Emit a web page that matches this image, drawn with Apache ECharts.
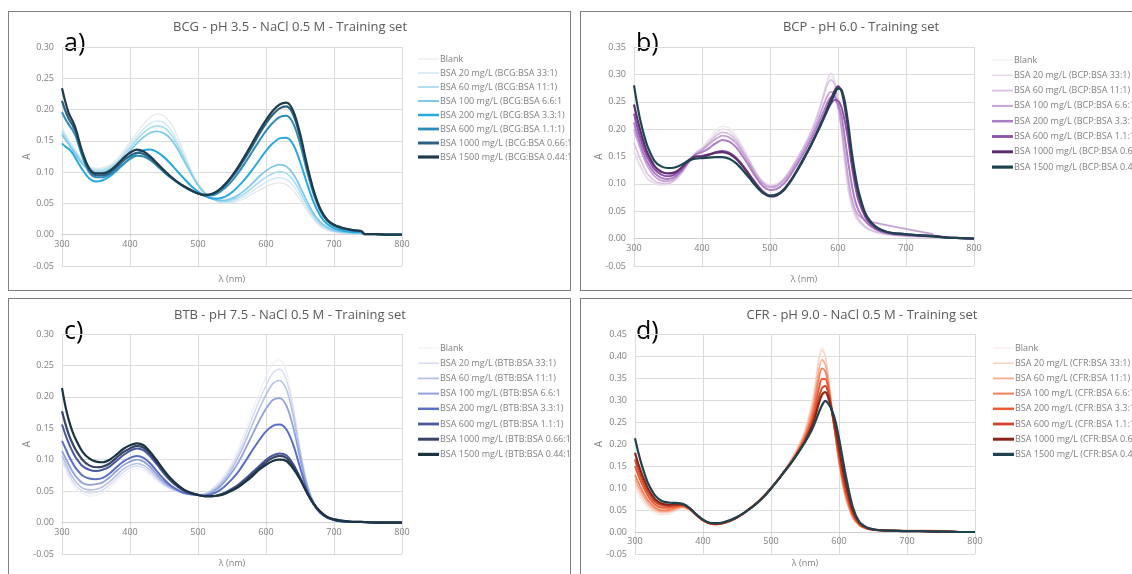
<!DOCTYPE html>
<html>
<head>
<meta charset="utf-8">
<script src="https://cdn.jsdelivr.net/npm/echarts@6/dist/echarts.min.js"></script>
<style>
  html, body { margin: 0; padding: 0; background: #fff; overflow: hidden; width: 1132px; height: 574px; }
  .panel { position: absolute; box-sizing: border-box; border: 1px solid #7f7f7f; background: #fff; overflow: hidden; }
  .panel > div { position: absolute; left: 0; top: 0; width: 100%; height: 100%; }
</style>
</head>
<body>
<div class="panel" style="left:8px;top:11px;width:563px;height:280px"><div id="ca"></div></div>
<div class="panel" style="left:580px;top:11px;width:553px;height:280px"><div id="cb"></div></div>
<div class="panel" style="left:8px;top:298px;width:563px;height:277px"><div id="cc"></div></div>
<div class="panel" style="left:580px;top:298px;width:553px;height:277px"><div id="cd"></div></div>
<script>
// ---------- Panel a: BCG, pH 3.5, NaCl 0.5 M ----------
const WL_A = [300,305,310,315,320,
  330,340,350,360,370,380,390,400,410,420,
  430,440,450,460,470,480,490,500,510,520,
  530,540,550,560,570,580,590,600,610,620,
  630,640,650,660,670,680,690,700,710,720,
  730,740,745,760,780,800];
const BCG_BLANK = [0.172,0.162,0.152,0.143,0.135,
  0.120,0.110,0.106,0.107,0.111,0.120,0.133,0.148,0.163,0.177,
  0.188,0.193,0.190,0.178,0.157,0.130,0.104,0.083,0.068,0.058,
  0.052,0.050,0.051,0.054,0.059,0.065,0.071,0.077,0.081,0.083,
  0.080,0.071,0.056,0.039,0.024,0.013,0.007,0.004,0.003,0.002,
  0.002,0.002,0.001,0.001,0,0];
const BCG_20 = [0.168,0.158,0.149,0.141,0.133,
  0.118,0.108,0.104,0.105,0.109,0.117,0.129,0.143,0.157,0.169,
  0.178,0.182,0.179,0.168,0.149,0.125,0.101,0.081,0.067,0.058,
  0.053,0.051,0.053,0.057,0.063,0.070,0.077,0.084,0.089,0.091,
  0.088,0.078,0.062,0.043,0.027,0.015,0.009,0.005,0.003,0.003,
  0.002,0.002,0.001,0.001,0,0];
const BCG_60 = [0.165,0.156,0.147,0.139,0.131,
  0.116,0.106,0.102,0.103,0.107,0.115,0.126,0.139,0.152,0.163,
  0.171,0.174,0.171,0.161,0.143,0.121,0.099,0.080,0.066,0.058,
  0.054,0.053,0.055,0.060,0.067,0.075,0.084,0.092,0.098,0.101,
  0.098,0.087,0.069,0.048,0.030,0.017,0.010,0.006,0.004,0.003,
  0.003,0.002,0.001,0.001,0,0];
const BCG_100 = [0.160,0.152,0.144,0.136,0.128,
  0.113,0.103,0.099,0.100,0.104,0.112,0.122,0.134,0.146,0.156,
  0.163,0.165,0.162,0.153,0.137,0.117,0.097,0.079,0.066,0.059,
  0.055,0.055,0.058,0.064,0.072,0.082,0.093,0.102,0.109,0.112,
  0.109,0.097,0.077,0.054,0.034,0.020,0.012,0.007,0.005,0.004,
  0.003,0.003,0.001,0.001,0,0];
const BCG_200 = [0.146,0.141,0.137,0.131,0.122,
  0.104,0.090,0.085,0.087,0.093,0.102,0.112,0.122,0.130,0.135,
  0.136,0.132,0.124,0.113,0.101,0.089,0.078,0.069,0.062,0.058,
  0.058,0.061,0.068,0.078,0.090,0.104,0.119,0.134,0.146,0.154,
  0.155,0.144,0.117,0.083,0.052,0.030,0.017,0.010,0.007,0.005,
  0.004,0.004,0.001,0.001,0,0];
const BCG_600 = [0.196,0.185,0.176,0.168,0.158,
  0.125,0.100,0.092,0.092,0.096,0.104,0.113,0.121,0.126,0.125,
  0.119,0.110,0.100,0.091,0.083,0.076,0.070,0.066,0.063,0.063,
  0.067,0.075,0.086,0.100,0.116,0.133,0.150,0.166,0.179,0.188,
  0.190,0.178,0.146,0.103,0.065,0.038,0.022,0.014,0.010,0.008,
  0.006,0.005,0.001,0.001,0,0];
const BCG_1000 = [0.214,0.198,0.185,0.176,0.165,
  0.130,0.104,0.095,0.095,0.099,0.108,0.118,0.126,0.131,0.129,
  0.122,0.112,0.102,0.092,0.084,0.077,0.071,0.066,0.064,0.065,
  0.070,0.079,0.092,0.107,0.124,0.142,0.161,0.178,0.192,0.202,
  0.205,0.192,0.157,0.110,0.069,0.040,0.023,0.015,0.011,0.009,
  0.007,0.006,0.001,0.001,0,0];
const BCG_1500 = [0.234,0.212,0.194,0.183,0.170,
  0.132,0.106,0.098,0.098,0.102,0.111,0.122,0.131,0.136,0.133,
  0.125,0.114,0.103,0.093,0.084,0.077,0.071,0.066,0.063,0.065,
  0.071,0.081,0.094,0.110,0.128,0.147,0.166,0.183,0.198,0.208,
  0.211,0.198,0.162,0.113,0.071,0.041,0.024,0.016,0.012,0.009,
  0.007,0.006,0.001,0.001,0,0];
const NAMES_A = ['Blank','BSA 20 mg/L (BCG:BSA 33:1)','BSA 60 mg/L (BCG:BSA 11:1)','BSA 100 mg/L (BCG:BSA 6.6:1',
  'BSA 200 mg/L (BCG:BSA 3.3:1)','BSA 600 mg/L (BCG:BSA 1.1:1)','BSA 1000 mg/L (BCG:BSA 0.66:1)','BSA 1500 mg/L (BCG:BSA 0.44:1)'];

// ---------- Panel b: BCP, pH 6.0 ----------
const WL_B = [300,305,310,315,320,
  330,340,350,360,370,380,390,400,410,420,
  430,440,450,460,470,480,490,500,510,520,
  530,540,550,560,570,580,
  585,590,595,600,605,610,615,620,625,630,
  640,650,660,670,680,690,700,
  720,740,760,780,800];
const BCP_BLANK = [0.155,0.140,0.128,0.117,0.108,
  0.100,0.097,0.099,0.106,0.120,0.139,0.157,0.168,0.182,0.197,
  0.205,0.202,0.189,0.168,0.145,0.122,0.105,0.099,0.100,0.109,
  0.125,0.145,0.167,0.192,0.225,0.268,
  0.290,0.296,0.280,0.240,0.185,0.130,0.085,0.057,0.040,0.031,
  0.020,0.014,0.010,0.008,0.006,0.005,0.004,
  0.003,0.002,0.001,0.0005,0];
const BCP_20 = [0.160,0.145,0.132,0.120,0.110,
  0.102,0.099,0.100,0.107,0.120,0.138,0.155,0.165,0.178,0.192,
  0.200,0.197,0.185,0.165,0.143,0.120,0.104,0.098,0.100,0.110,
  0.127,0.148,0.170,0.195,0.228,0.270,
  0.293,0.302,0.288,0.250,0.200,0.140,0.090,0.060,0.042,0.032,
  0.020,0.014,0.010,0.008,0.006,0.005,0.004,
  0.003,0.002,0.001,0.0005,0];
const BCP_60 = [0.175,0.158,0.143,0.130,0.118,
  0.106,0.101,0.101,0.107,0.120,0.138,0.155,0.164,0.175,0.187,
  0.194,0.191,0.180,0.161,0.140,0.118,0.102,0.096,0.098,0.108,
  0.125,0.146,0.168,0.193,0.225,0.265,
  0.283,0.290,0.282,0.250,0.205,0.150,0.102,0.068,0.048,0.036,
  0.022,0.015,0.011,0.008,0.007,0.006,0.005,
  0.004,0.003,0.001,0.0005,0];
// this run has no readings between 650 and 740 nm
const BCP_100 = [0.200,0.180,0.162,0.146,0.132,
  0.114,0.106,0.105,0.110,0.122,0.139,0.154,0.162,0.172,0.182,
  0.188,0.185,0.175,0.157,0.137,0.116,0.100,0.094,0.096,0.106,
  0.122,0.142,0.163,0.187,0.215,0.248,
  0.262,0.268,0.262,0.240,0.205,0.158,0.110,0.075,0.054,0.043,
  0.034,0.030,null,null,null,null,null,
  null,0.008,null,null,null];
const BCP_200 = [0.212,0.190,0.170,0.153,0.139,
  0.120,0.111,0.109,0.113,0.124,0.140,0.153,0.158,0.165,0.174,
  0.180,0.177,0.167,0.150,0.131,0.111,0.095,0.089,0.091,0.100,
  0.116,0.136,0.157,0.180,0.207,0.235,
  0.250,0.258,0.258,0.245,0.225,0.185,0.140,0.100,0.070,0.052,
  0.032,0.021,0.014,0.010,0.008,0.007,0.006,
  0.005,0.004,0.002,0.001,0];
const BCP_600 = [0.228,0.203,0.181,0.163,0.148,
  0.127,0.117,0.114,0.117,0.127,0.141,0.150,0.151,0.154,0.158,
  0.160,0.157,0.148,0.134,0.117,0.100,0.086,0.079,0.081,0.090,
  0.106,0.126,0.148,0.171,0.197,0.224,
  0.237,0.247,0.253,0.252,0.240,0.215,0.180,0.135,0.098,0.070,
  0.040,0.024,0.016,0.012,0.010,0.008,0.007,
  0.006,0.005,0.002,0.001,0];
const BCP_1000 = [0.245,0.218,0.194,0.173,0.156,
  0.133,0.122,0.119,0.121,0.130,0.143,0.150,0.150,0.153,0.157,
  0.158,0.155,0.146,0.132,0.115,0.098,0.084,0.077,0.079,0.088,
  0.104,0.124,0.146,0.170,0.197,0.225,
  0.241,0.256,0.270,0.278,0.270,0.240,0.200,0.150,0.112,0.082,
  0.044,0.027,0.018,0.013,0.010,0.009,0.008,
  0.006,0.005,0.002,0.001,0];
const BCP_1500 = [0.280,0.243,0.212,0.188,0.168,
  0.142,0.132,0.129,0.130,0.135,0.142,0.146,0.147,0.148,0.149,
  0.149,0.146,0.138,0.125,0.110,0.095,0.083,0.078,0.080,0.089,
  0.105,0.125,0.147,0.170,0.195,0.222,
  0.236,0.250,0.264,0.274,0.272,0.250,0.210,0.160,0.120,0.088,
  0.047,0.028,0.018,0.013,0.010,0.009,0.008,
  0.006,0.004,0.002,0.001,0];
const NAMES_B = ['Blank','BSA 20 mg/L (BCP:BSA 33:1)','BSA 60 mg/L (BCP:BSA 11:1)','BSA 100 mg/L (BCP:BSA 6.6:1',
  'BSA 200 mg/L (BCP:BSA 3.3:1)','BSA 600 mg/L (BCP:BSA 1.1:1)','BSA 1000 mg/L (BCP:BSA 0.66:1)','BSA 1500 mg/L (BCP:BSA 0.44:1)'];

// ---------- Panel c: BTB, pH 7.5, NaCl 0.5 M ----------
const WL_C = [300,305,310,315,320,
  330,340,350,360,370,380,390,400,410,420,
  430,440,450,460,470,480,490,500,510,520,
  530,540,550,560,570,580,590,600,610,620,
  630,640,650,660,670,680,690,700,710,720,
  730,740,760,780,800];
const BTB_BLANK = [0.097,0.085,0.072,0.062,0.054,
  0.046,0.042,0.043,0.047,0.055,0.066,0.075,0.082,0.086,0.083,
  0.075,0.066,0.058,0.052,0.049,0.047,0.045,0.044,0.046,0.054,
  0.064,0.078,0.096,0.120,0.148,0.178,0.206,0.232,0.253,0.259,
  0.240,0.188,0.120,0.064,0.032,0.016,0.008,0.004,0.002,0.001,
  0.001,0.001,0,0,0];
const BTB_20 = [0.100,0.089,0.077,0.067,0.059,
  0.050,0.047,0.048,0.052,0.060,0.070,0.080,0.087,0.090,0.087,
  0.079,0.069,0.060,0.054,0.050,0.047,0.045,0.044,0.046,0.052,
  0.061,0.074,0.091,0.113,0.139,0.167,0.194,0.218,0.238,0.244,
  0.227,0.180,0.117,0.063,0.032,0.016,0.008,0.004,0.002,0.001,
  0.001,0.001,0,0,0];
const BTB_60 = [0.106,0.095,0.083,0.073,0.065,
  0.055,0.052,0.053,0.057,0.065,0.075,0.085,0.091,0.094,0.091,
  0.083,0.072,0.062,0.055,0.050,0.047,0.045,0.044,0.045,0.050,
  0.058,0.070,0.086,0.106,0.130,0.156,0.181,0.203,0.221,0.226,
  0.212,0.170,0.112,0.062,0.032,0.016,0.008,0.004,0.002,0.001,
  0.001,0.001,0,0,0];
const BTB_100 = [0.114,0.103,0.092,0.082,0.074,
  0.063,0.060,0.061,0.064,0.072,0.082,0.091,0.097,0.100,0.097,
  0.088,0.076,0.065,0.057,0.051,0.047,0.045,0.044,0.044,0.048,
  0.055,0.066,0.080,0.097,0.118,0.140,0.162,0.181,0.195,0.198,
  0.186,0.152,0.103,0.059,0.031,0.016,0.008,0.004,0.002,0.001,
  0.001,0.001,0,0,0];
const BTB_200 = [0.130,0.118,0.106,0.096,0.087,
  0.075,0.070,0.069,0.071,0.078,0.088,0.097,0.103,0.106,0.103,
  0.094,0.081,0.069,0.059,0.052,0.047,0.045,0.044,0.043,0.045,
  0.050,0.058,0.069,0.082,0.098,0.115,0.131,0.145,0.154,0.156,
  0.148,0.124,0.088,0.053,0.029,0.015,0.008,0.004,0.002,0.001,
  0.001,0.001,0,0,0];
const BTB_600 = [0.156,0.140,0.126,0.114,0.104,
  0.090,0.084,0.082,0.084,0.089,0.098,0.107,0.114,0.118,0.115,
  0.105,0.092,0.078,0.066,0.057,0.050,0.046,0.044,0.042,0.042,
  0.044,0.048,0.054,0.061,0.070,0.080,0.090,0.100,0.107,0.110,
  0.107,0.093,0.072,0.049,0.029,0.016,0.008,0.004,0.002,0.001,
  0.001,0.001,0,0,0];
const BTB_1000 = [0.177,0.157,0.140,0.127,0.116,
  0.100,0.091,0.088,0.089,0.094,0.103,0.112,0.118,0.122,0.119,
  0.109,0.095,0.081,0.068,0.058,0.051,0.047,0.044,0.042,0.042,
  0.043,0.047,0.052,0.059,0.067,0.077,0.087,0.096,0.103,0.106,
  0.103,0.090,0.071,0.049,0.030,0.017,0.009,0.005,0.003,0.002,
  0.001,0.001,0,0,0];
const BTB_1500 = [0.214,0.185,0.163,0.146,0.133,
  0.113,0.102,0.097,0.096,0.100,0.108,0.117,0.123,0.126,0.123,
  0.112,0.098,0.083,0.070,0.060,0.052,0.047,0.044,0.042,0.042,
  0.043,0.046,0.051,0.057,0.065,0.074,0.084,0.092,0.098,0.100,
  0.098,0.086,0.069,0.048,0.030,0.017,0.009,0.005,0.003,0.002,
  0.001,0.001,0,0,0];
const NAMES_C = ['Blank','BSA 20 mg/L (BTB:BSA 33:1)','BSA 60 mg/L (BTB:BSA 11:1)','BSA 100 mg/L (BTB:BSA 6.6:1',
  'BSA 200 mg/L (BTB:BSA 3.3:1)','BSA 600 mg/L (BTB:BSA 1.1:1)','BSA 1000 mg/L (BTB:BSA 0.66:1)','BSA 1500 mg/L (BTB:BSA 0.44:1)'];

// ---------- Panel d: CFR, pH 9.0, NaCl 0.5 M ----------
const WL_D = [300,305,310,315,320,
  330,340,350,360,370,380,390,400,410,420,
  430,440,450,460,470,480,490,500,510,520,
  530,540,550,560,
  565,570,575,580,585,590,595,600,605,610,
  620,630,640,650,660,
  680,700,720,740,760,780,800];
const CFR_BLANK = [0.100,0.085,0.072,0.061,0.052,
  0.042,0.039,0.040,0.047,0.053,0.049,0.037,0.025,0.018,0.016,
  0.019,0.024,0.032,0.042,0.054,0.068,0.083,0.100,0.120,0.142,
  0.167,0.197,0.235,0.295,
  0.340,0.395,0.420,0.400,0.345,0.275,0.210,0.150,0.105,0.072,
  0.030,0.013,0.007,0.005,0.004,
  0.003,0.003,0.003,0.003,0.001,0,0];
const CFR_20 = [0.110,0.094,0.080,0.068,0.058,
  0.047,0.043,0.044,0.050,0.055,0.050,0.038,0.026,0.019,0.017,
  0.020,0.025,0.033,0.043,0.055,0.068,0.083,0.100,0.120,0.141,
  0.165,0.194,0.231,0.290,
  0.333,0.388,0.414,0.398,0.346,0.278,0.214,0.155,0.109,0.075,
  0.032,0.014,0.008,0.005,0.004,
  0.003,0.003,0.003,0.003,0.001,0,0];
const CFR_60 = [0.120,0.103,0.088,0.075,0.064,
  0.051,0.046,0.047,0.052,0.057,0.051,0.038,0.026,0.019,0.017,
  0.020,0.025,0.033,0.043,0.055,0.068,0.083,0.100,0.119,0.140,
  0.163,0.190,0.225,0.278,
  0.318,0.366,0.392,0.380,0.336,0.275,0.215,0.160,0.114,0.079,
  0.034,0.015,0.008,0.005,0.004,
  0.003,0.003,0.003,0.003,0.001,0,0];
const CFR_100 = [0.130,0.112,0.096,0.082,0.070,
  0.055,0.049,0.050,0.055,0.058,0.052,0.039,0.026,0.019,0.017,
  0.020,0.025,0.033,0.043,0.055,0.068,0.083,0.100,0.119,0.139,
  0.161,0.187,0.219,0.266,
  0.302,0.346,0.372,0.365,0.328,0.272,0.216,0.163,0.118,0.083,
  0.036,0.016,0.008,0.005,0.004,
  0.003,0.003,0.003,0.003,0.001,0,0];
const CFR_200 = [0.150,0.128,0.110,0.094,0.080,
  0.062,0.055,0.055,0.058,0.060,0.053,0.039,0.027,0.020,0.018,
  0.020,0.025,0.033,0.043,0.055,0.067,0.082,0.099,0.118,0.138,
  0.159,0.184,0.213,0.255,
  0.285,0.323,0.348,0.348,0.318,0.270,0.220,0.170,0.125,0.090,
  0.040,0.017,0.009,0.005,0.004,
  0.003,0.002,0.002,0.001,0.001,0,0];
const CFR_600 = [0.165,0.141,0.121,0.103,0.088,
  0.068,0.060,0.059,0.061,0.062,0.054,0.039,0.027,0.020,0.019,
  0.021,0.026,0.033,0.043,0.054,0.067,0.082,0.099,0.118,0.138,
  0.158,0.182,0.209,0.246,
  0.272,0.304,0.327,0.332,0.310,0.270,0.225,0.178,0.133,0.097,
  0.044,0.019,0.009,0.005,0.004,
  0.003,0.002,0.002,0.001,0.001,0,0];
const CFR_1000 = [0.180,0.154,0.132,0.113,0.096,
  0.074,0.064,0.062,0.063,0.063,0.054,0.040,0.027,0.020,0.019,
  0.021,0.026,0.033,0.043,0.054,0.067,0.081,0.099,0.118,0.138,
  0.158,0.181,0.206,0.240,
  0.262,0.290,0.312,0.318,0.302,0.272,0.235,0.192,0.148,0.110,
  0.050,0.021,0.010,0.006,0.004,
  0.003,0.002,0.002,0.001,0.001,0,0];
const CFR_1500 = [0.213,0.180,0.152,0.128,0.108,
  0.082,0.070,0.067,0.066,0.064,0.055,0.040,0.028,0.021,0.020,
  0.022,0.027,0.034,0.043,0.054,0.066,0.081,0.099,0.118,0.138,
  0.158,0.180,0.204,0.232,
  0.250,0.270,0.288,0.298,0.290,0.275,0.250,0.213,0.170,0.128,
  0.058,0.023,0.011,0.006,0.004,
  0.003,0.002,0.002,0.001,0.001,0,0];
const NAMES_D = ['Blank','BSA 20 mg/L (CFR:BSA 33:1)','BSA 60 mg/L (CFR:BSA 11:1)','BSA 100 mg/L (CFR:BSA 6.6:1',
  'BSA 200 mg/L (CFR:BSA 3.3:1)','BSA 600 mg/L (CFR:BSA 1.1:1)','BSA 1000 mg/L (CFR:BSA 0.66:1)','BSA 1500 mg/L (CFR:BSA 0.44:1)'];

// ---------- drawing ----------
const FONT = '"Open Sans", "Noto Sans", sans-serif';
const LINE_WIDTHS = [1.1, 1.4, 1.6, 1.8, 2, 2, 2.2, 2.2];
// legend key thickness, growing with BSA concentration
const KEY_WIDTHS = [1, 1.5, 1.8, 2, 2.5, 2.8, 3, 3.2];

function drawPanel(el, p) {
  const chart = echarts.init(el, null, { renderer: 'canvas' });
  const series = p.sets.map((vals, i) => ({
    type: 'line',
    name: p.names[i],
    data: p.wl.map((w, j) => (vals[j] == null ? null : [w, vals[j]])).filter(Boolean),
    symbol: 'none',
    smooth: 0.3,
    lineStyle: { color: p.colors[i], width: LINE_WIDTHS[i] },
    itemStyle: { color: p.colors[i] },
    emphasis: { disabled: true },
    silent: true,
    z: 2 + i
  }));
  const g = p.grid;
  // the wavelength axis sits on A = 0, one 0.05 band above the bottom of the plot
  const zeroOffset = g[3] * 0.05 / (p.ymax + 0.05);
  chart.setOption({
    animation: false,
    grid: { left: g[0], top: g[1], width: g[2], height: g[3] },
    xAxis: {
      type: 'value', min: 300, max: 800, interval: 100,
      offset: -zeroOffset,
      axisLine: { onZero: false, lineStyle: { color: '#cfcfcf', width: 1 } },
      axisTick: { show: false },
      axisLabel: { color: '#7f7f7f', fontFamily: FONT, fontSize: 9, margin: 5 },
      splitLine: { lineStyle: { color: '#dcdcdc', width: 1 } }
    },
    yAxis: {
      type: 'value', min: -0.05, max: p.ymax, interval: 0.05,
      axisLine: { show: false }, axisTick: { show: false },
      axisLabel: { color: '#7f7f7f', fontFamily: FONT, fontSize: 9, margin: 8,
        formatter: v => v.toFixed(2) },
      splitLine: { lineStyle: { color: '#dcdcdc', width: 1 } }
    },
    legend: {
      orient: 'vertical', left: p.legend[0], top: p.legend[1],
      itemWidth: 21, itemHeight: 10, itemGap: p.legend[2],
      selectedMode: false,
      textStyle: { color: '#7f7f7f', fontFamily: FONT, fontSize: 9, lineHeight: 10, padding: [0, 0, 0, -4] },
      data: p.names.map((n, i) => ({
        name: n,
        icon: 'path://M0,0H210V' + (KEY_WIDTHS[i] * 10) + 'H0Z',
        itemStyle: { color: p.colors[i] }
      }))
    },
    graphic: [
      { type: 'text', x: p.title[0], y: p.title[1], silent: true,
        style: { text: p.titleText, fill: '#595959', font: '13px ' + FONT,
          align: 'center', verticalAlign: 'middle', textAlign: 'center', textVerticalAlign: 'middle' } },
      { type: 'text', x: 55, y: p.tag[1], silent: true,
        style: { text: p.tagText, fill: '#000', font: '25px ' + FONT,
          align: 'left', verticalAlign: 'middle', textAlign: 'left', textVerticalAlign: 'middle' } },
      { type: 'text', x: g[0] + g[2] / 2, y: p.xname, silent: true,
        style: { text: 'λ (nm)', fill: '#7f7f7f', font: '9px ' + FONT,
          align: 'center', verticalAlign: 'middle', textAlign: 'center', textVerticalAlign: 'middle' } },
      { type: 'text', x: 18, y: g[1] + g[3] / 2, rotation: Math.PI / 2, silent: true,
        style: { text: 'A', fill: '#7f7f7f', font: '10px ' + FONT,
          align: 'center', verticalAlign: 'middle', textAlign: 'center', textVerticalAlign: 'middle' } }
    ],
    series
  });
}

drawPanel(document.getElementById('ca'), {
  wl: WL_A, sets: [BCG_BLANK, BCG_20, BCG_60, BCG_100, BCG_200, BCG_600, BCG_1000, BCG_1500],
  names: NAMES_A,
  colors: ['#e4e4e4', '#cfe9f5', '#a9dbf1', '#7dcaec', '#27a8e0', '#2f8bbb', '#2b6282', '#1e3c4b'],
  grid: [53, 35, 340, 219], ymax: 0.30, legend: [404, 37, 4],
  title: [281, 15], titleText: 'BCG - pH 3.5 - NaCl 0.5 M - Training set',
  tag: [55, 32], tagText: 'a)', xname: 267
});
drawPanel(document.getElementById('cb'), {
  wl: WL_B, sets: [BCP_BLANK, BCP_20, BCP_60, BCP_100, BCP_200, BCP_600, BCP_1000, BCP_1500],
  names: NAMES_B,
  colors: ['#ebebeb', '#e8d8ec', '#d9c0e2', '#c6a2d5', '#ad7cc6', '#8b52a8', '#5c2e70', '#1d4550'],
  grid: [53, 35, 340, 219], ymax: 0.35, legend: [406, 38, 5.3],
  title: [280, 15], titleText: 'BCP - pH 6.0 - Training set',
  tag: [55, 32], tagText: 'b)', xname: 267
});
drawPanel(document.getElementById('cc'), {
  wl: WL_C, sets: [BTB_BLANK, BTB_20, BTB_60, BTB_100, BTB_200, BTB_600, BTB_1000, BTB_1500],
  names: NAMES_C,
  colors: ['#eceef6', '#d6dcf1', '#b6c1e9', '#91a2db', '#5a6ec6', '#4a589e', '#394566', '#1b3442'],
  grid: [53, 35, 340, 220], ymax: 0.30, legend: [404, 39, 5.2],
  title: [281, 16], titleText: 'BTB - pH 7.5 - NaCl 0.5 M - Training set',
  tag: [55, 33], tagText: 'c)', xname: 264
});
drawPanel(document.getElementById('cd'), {
  wl: WL_D, sets: [CFR_BLANK, CFR_20, CFR_60, CFR_100, CFR_200, CFR_600, CFR_1000, CFR_1500],
  names: NAMES_D,
  colors: ['#f5e8e4', '#fad0c0', '#f7ab91', '#f3805d', '#eb5a33', '#cb462b', '#8a2416', '#1d4350'],
  grid: [54, 35, 340, 220], ymax: 0.45, legend: [407, 39, 5.2],
  title: [281, 16], titleText: 'CFR - pH 9.0 - NaCl 0.5 M - Training set',
  tag: [55, 33], tagText: 'd)', xname: 264
});
</script>
</body>
</html>
